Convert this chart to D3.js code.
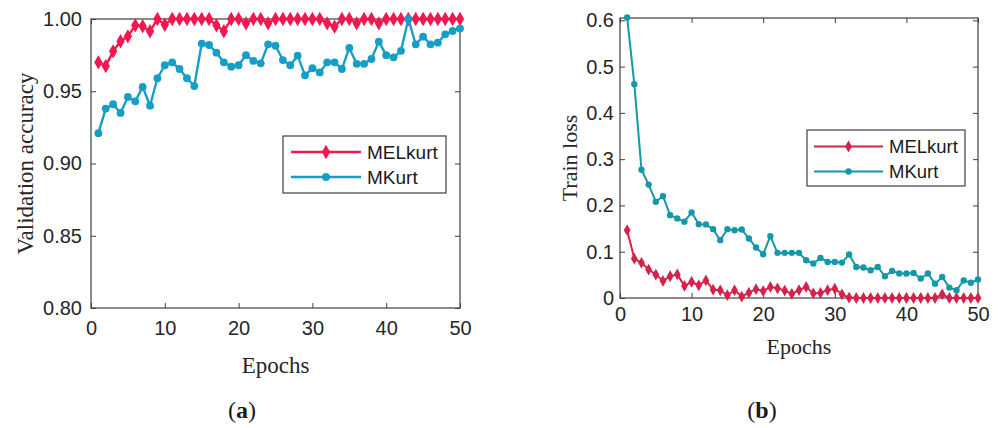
<!DOCTYPE html>
<html>
<head>
<meta charset="utf-8">
<script src="https://cdn.jsdelivr.net/npm/d3@7"></script>
<style>
  body { margin: 0; background: #fff; }
  svg { display: block; }
  .tick text { font-family: "Liberation Sans", Arial, sans-serif; fill: #262626; }
  .tick line { stroke: #404040; }
  .axlabel { font-family: "Liberation Serif", "Times New Roman", serif; fill: #262626; }
</style>
</head>
<body>
<svg id="chart" width="999" height="428"></svg>
<script>
var epochs = [1, 2, 3, 4, 5, 6, 7, 8, 9, 10, 11, 12, 13, 14, 15, 16, 17, 18, 19, 20,
  21, 22, 23, 24, 25, 26, 27, 28, 29, 30, 31, 32, 33, 34, 35, 36, 37, 38, 39, 40,
  41, 42, 43, 44, 45, 46, 47, 48, 49, 50]

var seriesNames = ['MELkurt', 'MKurt']

// (a) validation accuracy
var accMEL = [0.970, 0.9675, 0.9776, 0.9846, 0.988, 0.9956, 0.995, 0.9915, 1.0, 0.996,
  1.0, 1.0, 1.0, 1.0, 1.0, 1.0, 0.9956, 0.9915, 1.0, 1.0,
  0.997, 1.0, 1.0, 0.997, 1.0, 1.0, 1.0, 1.0, 1.0, 1.0,
  1.0, 0.997, 0.9947, 1.0, 1.0, 0.997, 1.0, 1.0, 0.997, 1.0,
  1.0, 1.0, 1.0, 1.0, 1.0, 1.0, 1.0, 1.0, 1.0, 1.0]
var accMK = [0.921, 0.938, 0.941, 0.935, 0.946, 0.943, 0.953, 0.940, 0.959, 0.968,
  0.970, 0.9654, 0.959, 0.9536, 0.983, 0.982, 0.9767, 0.970, 0.967, 0.968,
  0.975, 0.971, 0.9693, 0.9825, 0.9815, 0.9716, 0.968, 0.9746, 0.961, 0.966,
  0.963, 0.970, 0.970, 0.9654, 0.980, 0.969, 0.969, 0.9723, 0.9843, 0.975,
  0.9735, 0.978, 1.0, 0.9825, 0.9878, 0.9825, 0.9836, 0.9894, 0.9917, 0.9935]

// (b) train loss
var lossMEL = [0.1465, 0.085, 0.076, 0.0615, 0.0507, 0.037, 0.047, 0.051, 0.026, 0.0346,
  0.0275, 0.038, 0.018, 0.0166, 0.006, 0.0166, 0.003, 0.0115, 0.019, 0.015,
  0.024, 0.021, 0.016, 0.009, 0.017, 0.024, 0.010, 0.011, 0.017, 0.020,
  0.008, 0.001, 0, 0, 0, 0, 0, 0, 0, 0,
  0, 0, 0, 0, 0.008, 0, 0, 0, 0, 0]
var lossMK = [0.606, 0.462, 0.277, 0.245, 0.208, 0.220, 0.179, 0.172, 0.165, 0.185,
  0.1595, 0.159, 0.1487, 0.125, 0.1487, 0.1465, 0.148, 0.1286, 0.109, 0.0946,
  0.1335, 0.0974, 0.0974, 0.0974, 0.0974, 0.0816, 0.0745, 0.0866, 0.078, 0.078,
  0.0765, 0.094, 0.067, 0.0658, 0.060, 0.067, 0.047, 0.0585, 0.053, 0.053,
  0.054, 0.042, 0.053, 0.031, 0.0455, 0.0225, 0.0167, 0.038, 0.033, 0.040]

var xTicks = [0, 10, 20, 30, 40, 50]
var accTicks = [0.80, 0.85, 0.90, 0.95, 1.00]
var lossTicks = [0, 0.1, 0.2, 0.3, 0.4, 0.5, 0.6]

var svg = d3.select('#chart')

function drawPanel(p) {
  var w = p.right - p.left
  var h = p.bottom - p.top
  var g = svg.append('g').attr('transform', `translate(${p.left}, ${p.top})`)

  var x = d3.scaleLinear().domain([0, 50]).range([0, w])
  var y = d3.scaleLinear().domain(p.yDomain).range([h, 0])

  // ticks pointing inward, on all four sides like matlab
  var ax = g.append('g').attr('transform', `translate(0, ${h})`)
    .call(d3.axisBottom(x).tickValues(xTicks).tickSizeInner(-p.tick).tickSizeOuter(0).tickPadding(p.xPad))
  var ay = g.append('g')
    .call(d3.axisLeft(y).tickValues(p.yTicks).tickFormat(p.yFormat).tickSizeInner(-p.tick).tickSizeOuter(0).tickPadding(p.yPad))
  g.append('g').call(d3.axisTop(x).tickValues(xTicks).tickSizeInner(-p.tick).tickSizeOuter(0).tickFormat(''))
  g.append('g').attr('transform', `translate(${w}, 0)`)
    .call(d3.axisRight(y).tickValues(p.yTicks).tickSizeInner(-p.tick).tickSizeOuter(0).tickFormat(''))
  g.selectAll('.domain').remove()
  g.selectAll('.tick text').style('font-size', p.tickFont + 'px')

  g.append('rect')
    .attr('width', w).attr('height', h)
    .attr('fill', 'none').attr('stroke', '#404040').attr('stroke-width', 1.2)

  var series = [
    { name: seriesNames[0], values: p.mel, color: p.red, shape: d3.symbolDiamond, size: p.diamond },
    { name: seriesNames[1], values: p.mk, color: p.blue, shape: d3.symbolCircle, size: p.circle }
  ]

  var line = d3.line()
    .x(function(d, i) { return x(epochs[i]) })
    .y(function(d) { return y(d) })

  series.forEach(function(s) {
    g.append('path')
      .datum(s.values)
      .attr('d', line)
      .attr('fill', 'none')
      .attr('stroke', s.color)
      .attr('stroke-width', p.lineW)
      .attr('stroke-linejoin', 'round')

    g.selectAll(null)
      .data(s.values)
      .enter()
      .append('path')
      .attr('transform', function(d, i) { return 'translate(' + x(epochs[i]) + ',' + y(d) + ')' })
      .attr('d', d3.symbol().type(s.shape).size(s.size))
      .attr('fill', s.color)
  })

  // legend
  var lg = svg.append('g')
  lg.append('rect')
    .attr('x', p.leg.x).attr('y', p.leg.y)
    .attr('width', p.leg.w).attr('height', p.leg.h)
    .attr('fill', '#fff').attr('stroke', '#404040').attr('stroke-width', 1.2)
  series.forEach(function(s, i) {
    var ly = p.leg.y + p.leg.row0 + i * p.leg.step
    lg.append('line')
      .attr('x1', p.leg.x1).attr('x2', p.leg.x2)
      .attr('y1', ly).attr('y2', ly)
      .attr('stroke', s.color).attr('stroke-width', p.lineW)
    lg.append('path')
      .attr('transform', `translate(${(p.leg.x1 + p.leg.x2) / 2}, ${ly})`)
      .attr('d', d3.symbol().type(s.shape).size(s.size))
      .attr('fill', s.color)
    lg.append('text')
      .attr('x', p.leg.tx).attr('y', ly)
      .attr('dy', '0.35em')
      .style('font-family', '"Liberation Sans", Arial, sans-serif')
      .style('font-size', p.leg.font + 'px')
      .attr('fill', '#1a1a1a')
      .text(s.name)
  })

  // axis titles
  svg.append('text')
    .attr('class', 'axlabel')
    .attr('transform', `translate(${p.yLabelX}, ${p.top + h / 2}) rotate(-90)`)
    .attr('text-anchor', 'middle')
    .style('font-size', p.labelFont + 'px')
    .text(p.yLabel)
  svg.append('text')
    .attr('class', 'axlabel')
    .attr('x', p.left + w / 2).attr('y', p.xLabelY)
    .attr('text-anchor', 'middle')
    .style('font-size', p.labelFont + 'px')
    .text('Epochs')

  var cap = svg.append('text')
    .attr('x', p.capX).attr('y', 418)
    .attr('text-anchor', 'middle')
    .style('font-family', '"Liberation Serif", "Times New Roman", serif')
    .style('font-size', '24px')
    .attr('fill', '#1a1a1a')
  cap.append('tspan').text('(')
  cap.append('tspan').style('font-weight', 'bold').text(p.cap)
  cap.append('tspan').text(')')
}

drawPanel({
  left: 91, right: 460, top: 19, bottom: 308,
  yDomain: [0.8, 1.0], yTicks: accTicks, yFormat: d3.format('.2f'),
  mel: accMEL, mk: accMK,
  red: '#f2174e', blue: '#169ec8',
  lineW: 2.4, diamond: 60, circle: 48, tick: 5,
  xPad: 13, yPad: 9, tickFont: 20,
  leg: { x: 283, y: 136, w: 163, h: 57, row0: 16, step: 25, x1: 291, x2: 361, tx: 367, font: 19 },
  yLabel: 'Validation accuracy', yLabelX: 33, xLabelY: 373, labelFont: 23,
  cap: 'a', capX: 242
})

drawPanel({
  left: 620, right: 978, top: 18, bottom: 298,
  yDomain: [0, 0.605], yTicks: lossTicks, yFormat: function(d) { return d === 0 ? '0' : d3.format('.1f')(d) },
  mel: lossMEL, mk: lossMK,
  red: '#d3224b', blue: '#1598a8',
  lineW: 2, diamond: 40, circle: 32, tick: 5,
  xPad: 9, yPad: 6, tickFont: 20,
  leg: { x: 807, y: 130, w: 158, h: 56, row0: 16.5, step: 25, x1: 814, x2: 883, tx: 889, font: 18.5 },
  yLabel: 'Train loss', yLabelX: 577, xLabelY: 354, labelFont: 22,
  cap: 'b', capX: 762
})
</script>
</body>
</html>
